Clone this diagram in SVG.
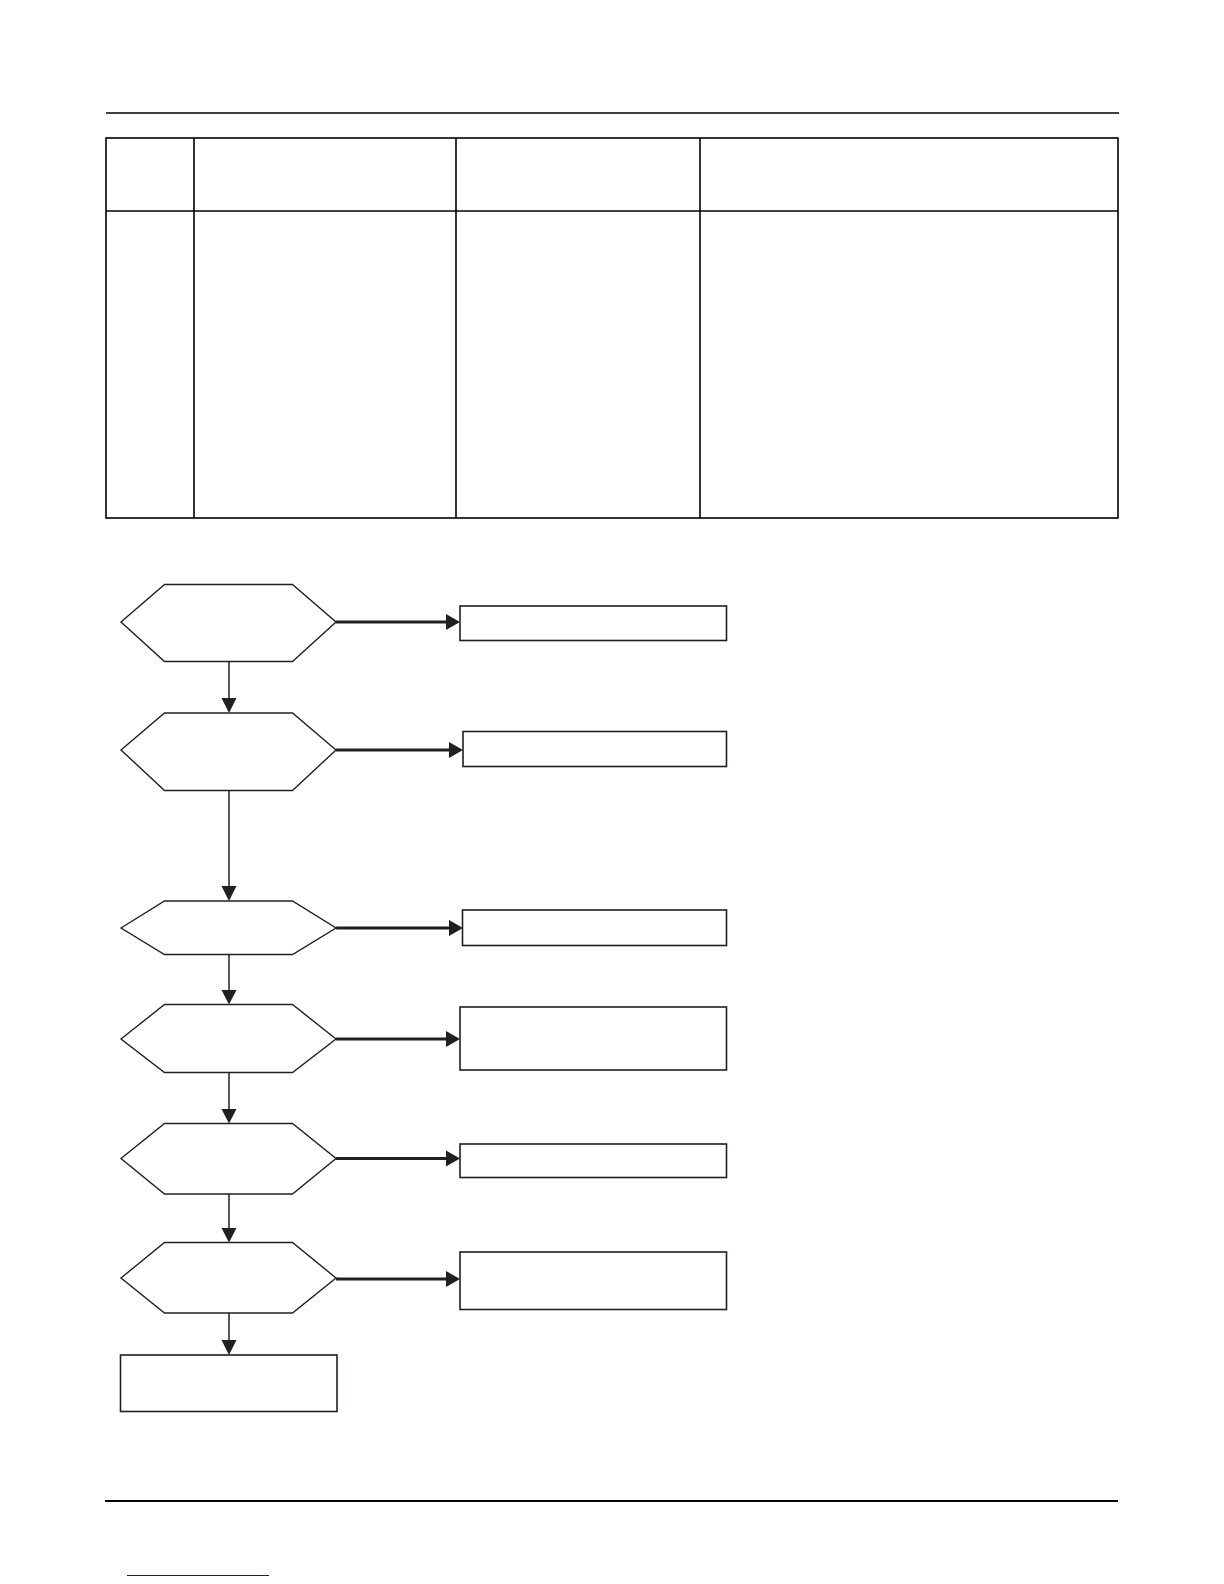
<svg xmlns="http://www.w3.org/2000/svg" width="1224" height="1584" viewBox="0 0 1224 1584">
<style>
.rule{stroke:#000;fill:none}
.tbl{stroke:#000;stroke-width:1.6;fill:none}
.hex{fill:#fff;stroke:#231f20;stroke-width:1.4}
.box{fill:#fff;stroke:#231f20;stroke-width:1.6}
.h{stroke:#231f20;stroke-width:3;fill:none}
.v{stroke:#231f20;stroke-width:1.5;fill:none}
.head{fill:#231f20}
</style>
<rect width="1224" height="1584" fill="#fff"/>
<line class="rule" x1="106" y1="113" x2="1119" y2="113" stroke-width="1.4"/>
<g id="table">
<rect class="tbl" x="106" y="138" width="1012" height="380"/>
<line class="tbl" x1="106" y1="211" x2="1118" y2="211"/>
<line class="tbl" x1="194" y1="138" x2="194" y2="518"/>
<line class="tbl" x1="456" y1="138" x2="456" y2="518"/>
<line class="tbl" x1="700" y1="138" x2="700" y2="518"/>
</g>
<g id="connectors">
<line class="h" x1="336" y1="622" x2="446" y2="622"/><polygon class="head" points="446,614 460,622 446,630"/>
<line class="h" x1="336" y1="750" x2="449" y2="750"/><polygon class="head" points="449,742 463,750 449,758"/>
<line class="h" x1="336" y1="928" x2="449" y2="928"/><polygon class="head" points="449,920 463,928 449,936"/>
<line class="h" x1="336" y1="1039" x2="446" y2="1039"/><polygon class="head" points="446,1031 460,1039 446,1047"/>
<line class="h" x1="336" y1="1158.5" x2="446" y2="1158.5"/><polygon class="head" points="446,1150.5 460,1158.5 446,1166.5"/>
<line class="h" x1="336" y1="1279" x2="446" y2="1279"/><polygon class="head" points="446,1271 460,1279 446,1287"/>
<line class="v" x1="229" y1="661" x2="229" y2="699"/><polygon class="head" points="221.5,698 236.5,698 229,713"/>
<line class="v" x1="229" y1="791" x2="229" y2="887"/><polygon class="head" points="221.5,886 236.5,886 229,901"/>
<line class="v" x1="229" y1="955" x2="229" y2="991"/><polygon class="head" points="221.5,990 236.5,990 229,1004.5"/>
<line class="v" x1="229" y1="1073" x2="229" y2="1110"/><polygon class="head" points="221.5,1109 236.5,1109 229,1123.5"/>
<line class="v" x1="229" y1="1194" x2="229" y2="1229"/><polygon class="head" points="221.5,1228 236.5,1228 229,1242.5"/>
<line class="v" x1="229" y1="1313" x2="229" y2="1341"/><polygon class="head" points="221.5,1340 236.5,1340 229,1355"/>
</g>
<g id="d1"><polygon class="hex" points="121,622 164.5,584.5 292.5,584.5 336,622 292.5,661.5 164.5,661.5"/></g>
<g id="d2"><polygon class="hex" points="121,750 164.5,713 292.5,713 336,750 292.5,790.5 164.5,790.5"/></g>
<g id="d3"><polygon class="hex" points="121,928 164.5,901 292.5,901 336,928 292.5,954.5 164.5,954.5"/></g>
<g id="d4"><polygon class="hex" points="121,1039 164.5,1004.5 292.5,1004.5 336,1039 292.5,1072.5 164.5,1072.5"/></g>
<g id="d5"><polygon class="hex" points="121,1158.5 164.5,1123.5 292.5,1123.5 336,1158.5 292.5,1194 164.5,1194"/></g>
<g id="d6"><polygon class="hex" points="121,1278 164.5,1242.5 292.5,1242.5 336,1278 292.5,1313 164.5,1313"/></g>
<g id="r1"><rect class="box" x="460" y="606" width="266.5" height="34.5"/></g>
<g id="r2"><rect class="box" x="463" y="731.5" width="263.5" height="35"/></g>
<g id="r3"><rect class="box" x="462.5" y="910" width="264" height="35.5"/></g>
<g id="r4"><rect class="box" x="460" y="1007" width="266.5" height="63"/></g>
<g id="r5"><rect class="box" x="460" y="1144" width="266.5" height="33.5"/></g>
<g id="r6"><rect class="box" x="460" y="1252" width="266.5" height="57.5"/></g>
<g id="end"><rect class="box" x="120.5" y="1355" width="216.5" height="56.5"/></g>
<line class="rule" x1="105" y1="1501" x2="1118" y2="1501" stroke-width="2.2"/>
<line x1="127" y1="1575.5" x2="269" y2="1575.5" stroke="#10109a" stroke-width="1"/>
</svg>
